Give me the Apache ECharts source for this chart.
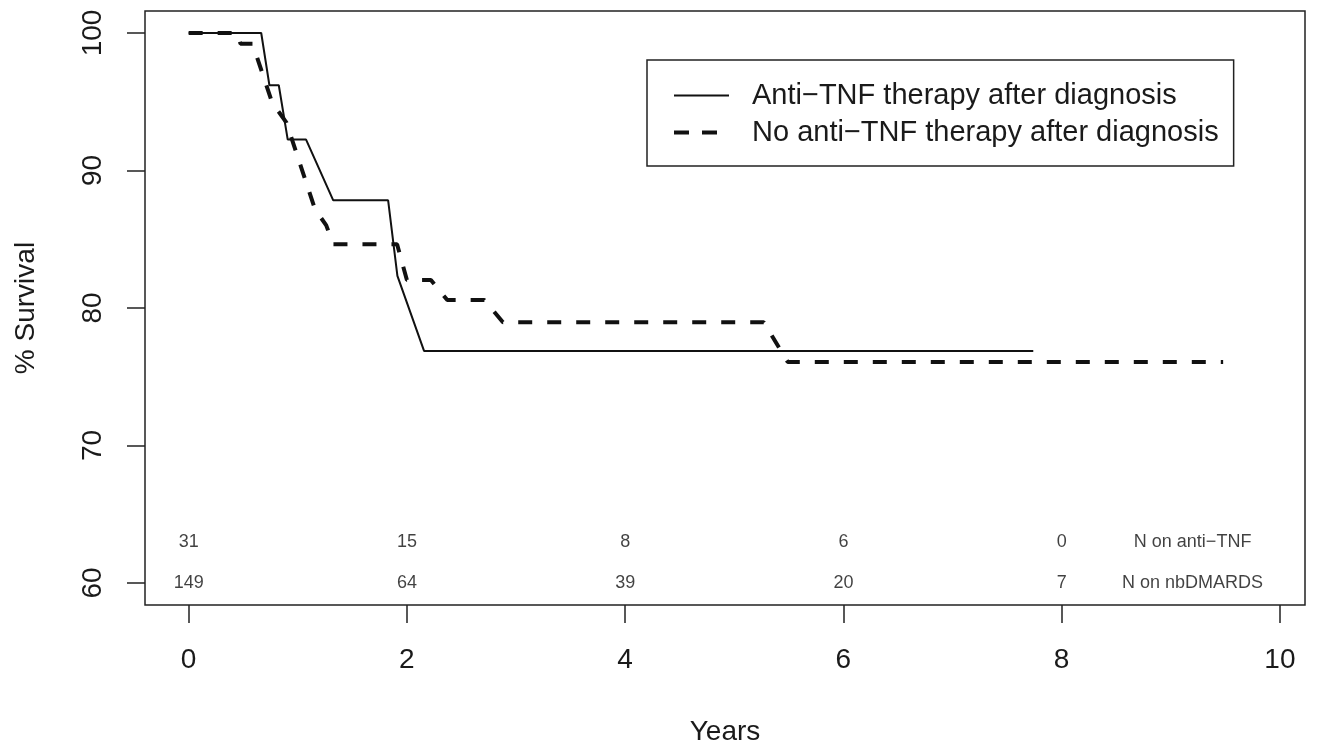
<!DOCTYPE html>
<html>
<head>
<meta charset="utf-8">
<script src="https://cdn.jsdelivr.net/npm/echarts@6/dist/echarts.min.js"></script>
<style>
html,body{margin:0;padding:0;background:#fff;}
#chart{width:1319px;height:742px;}
</style>
</head>
<body>
<div id="chart"></div>
<script>
// Survival curve vertices
var tnfTimes = [0, 0.665, 0.74, 0.826, 0.908, 1.076, 1.325, 1.828, 1.913, 2.157, 7.74];
var tnfSurv  = [100, 100, 96.2, 96.2, 92.25, 92.25, 87.83, 87.83, 82.34, 76.88, 76.88];

var noTnfTimes = [0, 0.448, 0.475, 0.585, 0.768, 0.832, 0.896, 1.161, 1.197, 1.261, 1.325, 1.91, 2.0, 2.22, 2.37, 2.71, 2.88, 5.27, 5.49, 9.48];
var noTnfSurv  = [100, 100, 99.22, 99.22, 94.86, 94.2, 93.48, 87.1, 86.74, 86.01, 84.64, 84.64, 82.03, 82.03, 80.58, 80.58, 78.96, 78.96, 76.07, 76.07];

// Numbers at risk
var riskTimes = [0, 2, 4, 6, 8];
var riskTNF = [31, 15, 8, 6, 0];
var riskNb = [149, 64, 39, 20, 7];
var riskRowY = [63, 60];
var riskRowLabels = ['N on anti\u2212TNF', 'N on nbDMARDS'];
var riskLabelX = 9.2;

var xTicks = [0, 2, 4, 6, 8, 10];
var yTicks = [60, 70, 80, 90, 100];

var seriesNames = ['Anti\u2212TNF therapy after diagnosis', 'No anti\u2212TNF therapy after diagnosis'];

function pairs(xs, ys) { return xs.map(function (x, i) { return [x, ys[i]]; }); }

var riskData = [];
riskTimes.forEach(function (t, i) {
  riskData.push([t, riskRowY[0], String(riskTNF[i])]);
  riskData.push([t, riskRowY[1], String(riskNb[i])]);
});
riskData.push([riskLabelX, riskRowY[0], riskRowLabels[0]]);
riskData.push([riskLabelX, riskRowY[1], riskRowLabels[1]]);

var FONT = 'Liberation Sans, Arial, Helvetica, sans-serif';
var DASH = [14, 15];
var chart = echarts.init(document.getElementById('chart'), null, {renderer: 'canvas'});
chart.setOption({
  backgroundColor: '#fff',
  animation: false,
  textStyle: {fontFamily: FONT, color: '#000'},
  grid: {left: 145, top: 11, width: 1160, height: 594, show: true, borderColor: '#222', borderWidth: 1.5,
    backgroundColor: 'transparent', containLabel: false, outerBoundsMode: 'none'},
  legend: {
    data: [
      {name: seriesNames[0], lineStyle: {width: 2, color: '#111'}},
      {name: seriesNames[1], lineStyle: {width: 4, color: '#111', type: [15, 13], cap: 'butt'}}
    ],
    orient: 'vertical',
    left: 647, top: 60,
    padding: [21, 15, 19, 25],
    itemGap: 8,
    itemWidth: 55, itemHeight: 20,
    borderColor: '#222', borderWidth: 1.5,
    textStyle: {fontFamily: FONT, fontSize: 29, color: '#1a1a1a', lineHeight: 28, padding: [0, 0, 0, 18]},
    itemStyle: {opacity: 0},
    selectedMode: false
  },
  xAxis: {
    type: 'value', min: -0.4, max: 10.23,
    name: 'Years', nameLocation: 'middle', nameGap: 113,
    nameTextStyle: {fontFamily: FONT, fontSize: 28, color: '#1a1a1a'},
    axisLine: {show: false, onZero: false},
    splitLine: {show: false},
    axisTick: {show: true, length: 18, customValues: xTicks, lineStyle: {color: '#222', width: 1.5}},
    axisLabel: {show: true, customValues: xTicks, margin: 41, fontSize: 28, color: '#1a1a1a', fontFamily: FONT}
  },
  yAxis: {
    type: 'value', min: 58.4, max: 101.6,
    name: '% Survival', nameLocation: 'middle', nameGap: 105, nameRotate: 90,
    nameTextStyle: {fontFamily: FONT, fontSize: 28, color: '#1a1a1a'},
    axisLine: {show: false, onZero: false},
    splitLine: {show: false},
    axisTick: {show: true, length: 18, customValues: yTicks, lineStyle: {color: '#222', width: 1.5}},
    axisLabel: {show: true, customValues: yTicks, rotate: 90, margin: 38, fontSize: 28, color: '#1a1a1a', fontFamily: FONT}
  },
  series: [
    {
      name: seriesNames[0], type: 'line', data: pairs(tnfTimes, tnfSurv),
      symbol: 'none', lineStyle: {color: '#111', width: 2}, z: 3
    },
    {
      name: seriesNames[1], type: 'line', data: pairs(noTnfTimes, noTnfSurv),
      symbol: 'none', lineStyle: {color: '#111', width: 4, type: DASH, cap: 'butt'}, z: 2
    },
    {
      name: 'risk', type: 'scatter', data: riskData, symbolSize: 1,
      itemStyle: {color: 'rgba(0,0,0,0)'},
      label: {show: true, position: 'inside', fontFamily: FONT, fontSize: 18, color: '#111',
        formatter: function (p) { return p.value[2]; }},
      tooltip: {show: false}, silent: true, z: 4
    }
  ]
});
</script>
</body>
</html>
